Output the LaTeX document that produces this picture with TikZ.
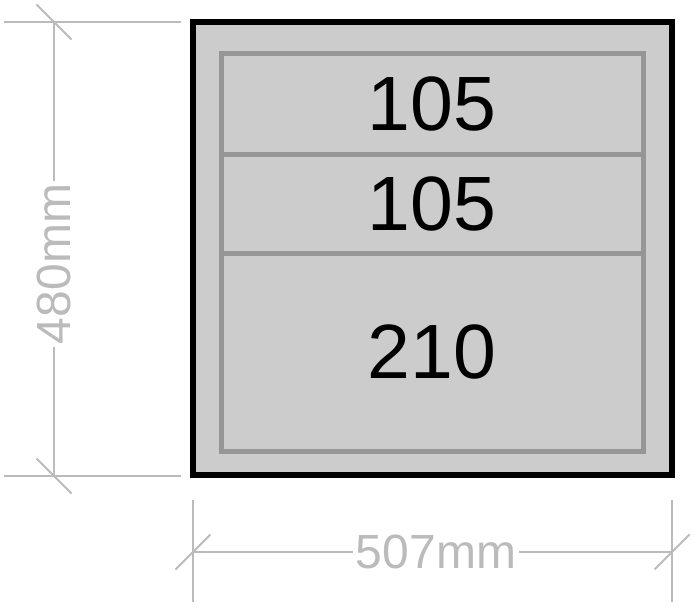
\documentclass[tikz,border=0pt]{standalone}
\usepackage{fontspec}
\setmainfont{Liberation Sans}
\usetikzlibrary{positioning}

\definecolor{boxgray}{HTML}{CCCCCC}
\definecolor{drawergray}{HTML}{969696}
\definecolor{dimgray}{HTML}{BBBBBB}

\begin{document}
\begin{tikzpicture}[
  x=1pt,y=-1pt,
  cabinet/.style={draw=black,line width=6pt,fill=boxgray,inner sep=0pt,minimum width=479pt,minimum height=453pt},
  drawer/.style={draw=drawergray,line width=5pt,fill=boxgray,inner sep=0pt,outer sep=0pt,minimum width=422pt,font=\fontsize{77}{80}\selectfont},
  dim/.style={draw=dimgray,line width=2pt},
  dimlabel/.style={fill=white,text=dimgray,inner sep=3pt,font=\fontsize{48}{50}\selectfont}]

  \useasboundingbox (0,0) rectangle (692,607);

  % Cabinet with its drawers
  \node[cabinet] (cab) at (432.5,248.5) {};
  \node[drawer,minimum height=100pt] (d1) at (432,104) {105};
  \node[drawer,minimum height=99pt,below=0pt of d1] (d2) {105};
  \node[drawer,minimum height=198pt,below=0pt of d2] (d3) {210};

  % Height dimension
  \coordinate (ht) at (54,22);
  \coordinate (hb) at (54,476);
  \draw[dim] (4,22) coordinate (et1) -- (181,22) coordinate (et2);
  \draw[dim] (4,476) coordinate (eb1) -- (181,476) coordinate (eb2);
  \draw[dim] (ht) -- (hb);
  \draw[dim] ([shift={(-17.5,-17.5)}]ht) -- ([shift={(17.5,17.5)}]ht);
  \draw[dim] ([shift={(-17.5,-17.5)}]hb) -- ([shift={(17.5,17.5)}]hb);
  \node[dimlabel,rotate=90] (hlabel) at (54,264) {480mm};

  % Width dimension
  \coordinate (wl) at (193,552);
  \coordinate (wr) at (672,552);
  \draw[dim] (193,500) coordinate (el1) -- (193,602) coordinate (el2);
  \draw[dim] (672,500) coordinate (er1) -- (672,602) coordinate (er2);
  \draw[dim] (wl) -- (wr);
  \draw[dim] ([shift={(-17.5,17.5)}]wl) -- ([shift={(17.5,-17.5)}]wl);
  \draw[dim] ([shift={(-17.5,17.5)}]wr) -- ([shift={(17.5,-17.5)}]wr);
  \node[dimlabel] (wlabel) at (436,552) {507mm};

\end{tikzpicture}
\end{document}
